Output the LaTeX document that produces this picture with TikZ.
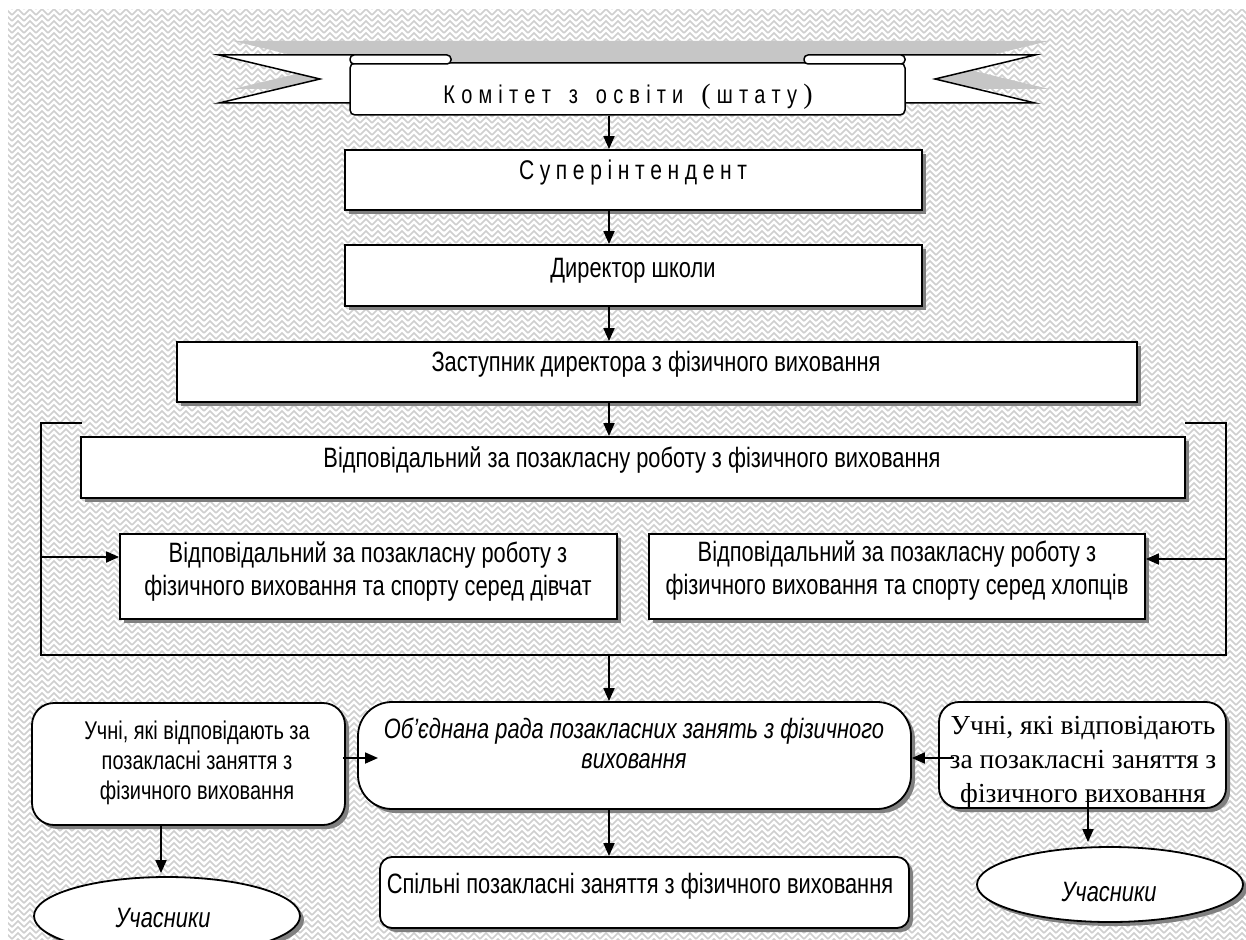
\documentclass[tikz,border=0pt]{standalone}
\usepackage{fontspec}
\setmainfont{Liberation Sans}[FakeStretch=0.78]
\newfontfamily\serifU{Liberation Serif}
\usetikzlibrary{arrows.meta,shadows,patterns,shapes.geometric}

\pgfdeclarepatternformonly{herring}{\pgfqpoint{-1pt}{-1pt}}{\pgfqpoint{13pt}{13pt}}{\pgfqpoint{12pt}{12pt}}{%
  \pgfsetlinewidth{1.6pt}%
  \pgfpathmoveto{\pgfqpoint{0pt}{0pt}}\pgfpathlineto{\pgfqpoint{6pt}{6pt}}\pgfpathlineto{\pgfqpoint{12pt}{0pt}}%
  \pgfpathmoveto{\pgfqpoint{0pt}{6pt}}\pgfpathlineto{\pgfqpoint{6pt}{12pt}}\pgfpathlineto{\pgfqpoint{12pt}{6pt}}%
  \pgfusepath{stroke}}

\newdimen\lsamt
\def\lswordloop#1{\ifx\relax#1\else#1\kern\lsamt\expandafter\lswordloop\fi}
\newcommand\lsword[1]{\lswordloop#1\relax}

\tikzset{
  box/.style={draw=black, line width=1.8pt, fill=white, rectangle, inner sep=0pt,
    drop shadow={shadow xshift=4pt, shadow yshift=-4pt, fill=black!50, opacity=1}},
  ell/.style={box, ellipse},
  arr/.style={line width=1.8pt, -{Triangle[length=13pt,width=11pt]}},
  brk/.style={line width=1.5pt},
  bnr/.style={draw=black, fill=white, line width=1.5pt, line join=miter},
  t/.style={font=\fontsize{28}{32}\selectfont, inner sep=0pt, anchor=base},
  tl/.style={font=\fontsize{25.6}{30}\selectfont, inner sep=0pt, anchor=base},
  ti/.style={font=\fontsize{28}{32}\selectfont\itshape, inner sep=0pt, anchor=base},
  ts/.style={font=\fontsize{27.5}{30}\serifU, inner sep=0pt, anchor=base},
}

\begin{document}
\begin{tikzpicture}[x=1pt,y=-1pt]
\useasboundingbox (0,0) rectangle (1246,939);
\fill[white] (0,0) rectangle (1246,939);
\fill[pattern=herring, pattern color=gray!38] (8,10) rectangle (1246,939);

% ---- banner ----
\begin{scope}[shift={(14,-14)}]
  \fill[gray!45] (219,55) -- (1035,55) -- (935,79) -- (1035,103) -- (905,103) -- (905,115)
     -- (350,115) -- (350,103) -- (219,103) -- (320,79) -- cycle;
\end{scope}
\draw[bnr] (219,55) -- (360,55) -- (360,103) -- (219,103) -- (320,79) -- cycle;
\draw[bnr] (895,55) -- (1035,55) -- (935,79) -- (1035,103) -- (895,103) -- cycle;
\node[draw=black, fill=white, line width=1.5pt, rounded corners=5pt, inner sep=0pt,
      minimum width=555pt, minimum height=52pt] (banner) at (627.5,89) {};
\draw[bnr, rounded corners=4pt] (350,55) rectangle (451,64);
\draw[bnr, rounded corners=4pt] (804,55) rectangle (905,64);
\node[inner sep=0pt, anchor=base, font=\fontsize{25.6}{30}\selectfont] (bannertext) at (628,104)
  {\lsamt=6.2pt\lsword{Комітет~з~освіти~}{\serifU\fontsize{28}{30}\selectfont(}\kern\lsamt\lsword{штату}{\serifU\fontsize{28}{30}\selectfont)}};

% ---- boxes ----
\node[box, minimum width=577pt, minimum height=60pt] (super) at (633.5,180) {};
\node[box, minimum width=577pt, minimum height=61pt] (dir) at (633.5,275.5) {};
\node[box, minimum width=960pt, minimum height=60pt] (zast) at (657,372) {};
\node[box, minimum width=1104pt, minimum height=61pt] (vidp) at (633,467.5) {};
\node[box, minimum width=497pt, minimum height=85pt] (girls) at (368.5,576.5) {};
\node[box, minimum width=496pt, minimum height=85pt] (boys) at (897,576.5) {};
\node[box, rounded corners=22pt, minimum width=313pt, minimum height=122pt] (lU) at (188.5,764) {};
\node[box, rounded corners=34pt, minimum width=553pt, minimum height=107pt] (ob) at (634.5,755.5) {};
\node[box, rounded corners=20pt, minimum width=287pt, minimum height=106pt] (rU) at (1082.5,755) {};
\node[box, rounded corners=12pt, minimum width=529pt, minimum height=71pt] (sp) at (644.5,892.5) {};
\node[ell, minimum width=266pt, minimum height=78pt] (lE) at (167,916) {};
\node[ell, minimum width=266pt, minimum height=75pt] (rE) at (1110,884.5) {};

% ---- bracket and connectors ----
\coordinate (xa) at (609,0);
\coordinate (bTL) at (82,423);
\coordinate (bL) at (41,423);
\coordinate (bBL) at (41,655);
\coordinate (bBR) at (1226,655);
\coordinate (bR) at (1226,423);
\coordinate (bTR) at (1185,423);
\draw[brk] (bTL) -- (bL) -- (bBL) -- (bBR) -- (bR) -- (bTR);
\coordinate (gIn) at (41,557);
\coordinate (bIn) at (1226,559);
\coordinate (bMid) at (609,655);
\coordinate (lT) at (378,758);
\coordinate (rS) at (954,758);
\coordinate (lD) at (161,0);
\coordinate (rD) at (1088,797);

\draw[arr] (banner.south -| xa) -- (super.north -| xa);
\draw[arr] (super.south -| xa) -- (dir.north -| xa);
\draw[arr] (dir.south -| xa) -- (zast.north -| xa);
\draw[arr] (zast.south -| xa) -- (vidp.north -| xa);
\draw[arr] (gIn) -- (girls.west |- gIn);
\draw[arr] (bIn) -- (boys.east |- bIn);
\draw[arr] (bMid) -- (ob.north -| xa);
\draw[arr] ([xshift=-3pt]lU.east |- lT) -- (lT);
\draw[arr] (rS) -- (ob.east |- rS);
\draw[arr] (ob.south -| xa) -- (sp.north -| xa);
\draw[arr] (lU.south -| lD) -- ([yshift=3pt]lE.north -| lD);
\draw[arr] (rD) -- ([yshift=4pt]rE.north -| rD);

% ---- texts ----
\node[inner sep=0pt, anchor=base, font=\fontsize{27}{30}\selectfont] (supert) at (633,179)
  {\lsamt=5.6pt\lsword{Суперінтенден}т};
\node[t] (dirt) at (633,277) {Директор школи};
\node[t] (zastt) at (656,371) {Заступник директора з фізичного виховання};
\node[t] (vidpt) at (632,467) {Відповідальний за позакласну роботу з фізичного виховання};
\node[t] (girls1) at (368,562) {Відповідальний за позакласну роботу з};
\node[t] (girls2) at (368,595) {фізичного виховання та спорту серед дівчат};
\node[t] (boys1) at (897,561) {Відповідальний за позакласну роботу з};
\node[t] (boys2) at (897,594) {фізичного виховання та спорту серед хлопців};
\node[tl] (lU1) at (197,739) {Учні, які відповідають за};
\node[tl] (lU2) at (197,769) {позакласні заняття з};
\node[tl] (lU3) at (197,799) {фізичного виховання};
\node[ti] (ob1) at (634,738) {Об’єднана рада позакласних занять з фізичного};
\node[ti] (ob2) at (634,768) {виховання};
\node[ts] (rU1) at (1083,734) {Учні, які відповідають};
\node[ts] (rU2) at (1083,768) {за позакласні заняття з};
\node[ts] (rU3) at (1083,802) {фізичного виховання};
\node[t] (spt) at (640,893) {Спільні позакласні заняття з фізичного виховання};
\node[ti] (lEt) at (163,927) {Учасники};
\node[ti] (rEt) at (1109,901) {Учасники};
\end{tikzpicture}
\end{document}
